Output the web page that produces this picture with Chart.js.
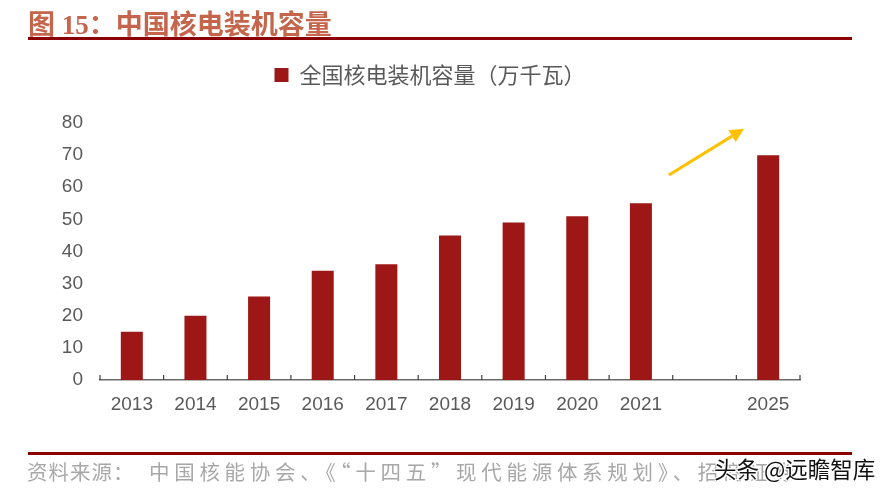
<!DOCTYPE html>
<html>
<head>
<meta charset="utf-8">
<script src="https://cdn.jsdelivr.net/npm/chart.js@4/dist/chart.umd.min.js"></script>
<style>
  html, body { margin: 0; padding: 0; background: #ffffff; }
  #wrap { position: relative; width: 895px; height: 500px; overflow: hidden; background: #fff; }
  #c { position: absolute; left: 0; top: 0; }
  .title { position: absolute; left: 28px; top: 3px; font-family: "Liberation Serif", "Noto Sans CJK SC", serif; font-weight: bold; font-size: 27px; color: #C4654C; white-space: nowrap; }
  .title .cjk { font-family: "Noto Sans CJK SC", sans-serif; font-weight: bold; }
  .rule { position: absolute; left: 28px; width: 824px; height: 3px; background: #8B0000; }
  .source { position: absolute; top: 456px; font-family: "Noto Sans CJK SC", sans-serif; font-size: 20.5px; color: #a8a8a8; white-space: nowrap; }
  .wm { position: absolute; left: 714px; top: 452px; font-family: "Noto Sans CJK SC", sans-serif; font-size: 22.5px; color: #111; white-space: nowrap;
        text-shadow: -1px -1px 0 #fff, 1px -1px 0 #fff, -1px 1px 0 #fff, 1px 1px 0 #fff, 0 0 2px #fff; }
</style>
</head>
<body>
<div id="wrap">
  <canvas id="c" width="895" height="500"></canvas>
  <div class="title"><span class="cjk">图</span> 15<span class="cjk">：</span><span class="cjk">中国核电装机容量</span></div>
  <div class="rule" style="top:37px"></div>
  <div class="rule" style="top:452px"></div>
  <div class="source" style="left:27px; letter-spacing:1px">资料来源：</div>
  <div class="source" style="left:149px; letter-spacing:4.7px">中国核能协会、《“十四五”现代能源体系规划》、招商证券</div>
  <div class="wm">头条 @远瞻智库</div>
</div>
<script>
const categories = ['2013', '2014', '2015', '2016', '2017', '2018', '2019', '2020', '2021', '', '2025'];
const capacity = [15, 20, 26, 34, 36, 45, 49, 51, 55, null, 70];
const seriesName = '全国核电装机容量（万千瓦）';
const yMin = 0, yMax = 80, yStep = 10;
// arrow annotation, in data units (category index, value)
const arrowFrom = [8.44, 63.8];
const arrowTo = [9.62, 78.2];

const barColor = '#9E1717';
const labelColor = '#595959';

const tickPlugin = {
  id: 'upTicks',
  afterDraw(chart) {
    const xs = chart.scales.x;
    const ctx = chart.ctx;
    const n = categories.length;
    const y = chart.chartArea.bottom;
    ctx.save();
    ctx.strokeStyle = '#404040';
    ctx.lineWidth = 1.2;
    for (let i = 0; i <= n; i++) {
      const px = xs.getPixelForValue(i - 0.5);
      ctx.beginPath();
      ctx.moveTo(px, y);
      ctx.lineTo(px, y - 5);
      ctx.stroke();
    }
    ctx.restore();
  }
};

const arrowPlugin = {
  id: 'arrow',
  afterDatasetsDraw(chart) {
    const xs = chart.scales.x, ys = chart.scales.y, ctx = chart.ctx;
    const x1 = xs.getPixelForValue(arrowFrom[0]), y1 = ys.getPixelForValue(arrowFrom[1]);
    const x2 = xs.getPixelForValue(arrowTo[0]), y2 = ys.getPixelForValue(arrowTo[1]);
    const ang = Math.atan2(y2 - y1, x2 - x1);
    const head = 14, hw = 7;
    const bx = x2 - head * Math.cos(ang), by = y2 - head * Math.sin(ang);
    ctx.save();
    ctx.strokeStyle = '#FFC000';
    ctx.fillStyle = '#FFC000';
    ctx.lineWidth = 3;
    ctx.beginPath();
    ctx.moveTo(x1, y1);
    ctx.lineTo(bx, by);
    ctx.stroke();
    ctx.beginPath();
    ctx.moveTo(x2, y2);
    ctx.lineTo(bx + hw * Math.sin(ang), by - hw * Math.cos(ang));
    ctx.lineTo(bx - hw * Math.sin(ang), by + hw * Math.cos(ang));
    ctx.closePath();
    ctx.fill();
    ctx.restore();
  }
};

new Chart(document.getElementById('c'), {
  type: 'bar',
  data: {
    labels: categories,
    datasets: [{
      label: seriesName,
      data: capacity,
      backgroundColor: barColor,
      borderWidth: 0,
      barPercentage: 1.0,
      categoryPercentage: 0.346
    }]
  },
  options: {
    responsive: false,
    animation: false,
    devicePixelRatio: 1,
    layout: { padding: { left: 60, right: 95, top: 54, bottom: 70 } },
    plugins: {
      legend: {
        display: true,
        position: 'top',
        labels: {
          boxWidth: 14, boxHeight: 14, padding: 10,
          color: labelColor,
          font: { family: '"Noto Sans CJK SC", sans-serif', size: 22 }
        }
      },
      tooltip: { enabled: false }
    },
    scales: {
      x: {
        type: 'category',
        grid: { display: false, drawTicks: false },
        border: { display: true, color: '#6a6a6a', width: 1.5 },
        ticks: {
          color: labelColor, padding: 13, maxRotation: 0, autoSkip: false,
          font: { family: '"Liberation Sans", Arial, sans-serif', size: 19 }
        },
        afterFit(s) { s.height = 50; }
      },
      xTop: {
        type: 'category',
        position: 'top',
        labels: categories,
        grid: { display: false, drawTicks: false },
        border: { display: false },
        ticks: { display: false },
        afterFit(s) { s.height = 27; }
      },
      y: {
        min: yMin, max: yMax,
        grid: { display: false, drawTicks: false },
        border: { display: false },
        ticks: {
          stepSize: yStep, color: labelColor, padding: 17,
          font: { family: '"Liberation Sans", Arial, sans-serif', size: 19 }
        },
        afterFit(s) { s.width = 40; }
      }
    }
  },
  plugins: [tickPlugin, arrowPlugin]
});
</script>
</body>
</html>
